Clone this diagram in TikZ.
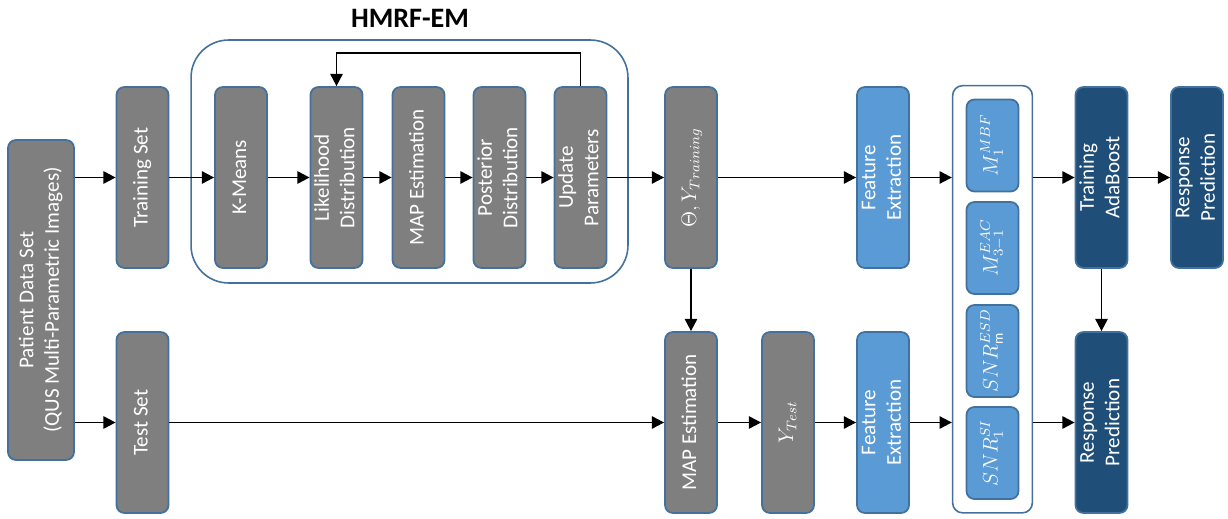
\documentclass[tikz,border=0pt]{standalone}
\usepackage{fontspec}
\setmainfont{Carlito}
\usepackage{amsmath}
\usetikzlibrary{positioning,arrows.meta,fit}
\definecolor{boxgray}{HTML}{7F7F7F}
\definecolor{boxlight}{HTML}{5B9BD5}
\definecolor{boxdark}{HTML}{1F4E79}
\definecolor{edgeblue}{HTML}{41719C}
\newcommand{\vlabel}[1]{\rotatebox{90}{\begin{tabular}{@{}c@{}}#1\end{tabular}}}

\begin{document}
\begin{tikzpicture}[
  x=0.02cm, y=0.02cm,
  >={Triangle[length=7pt,width=7pt]},
  grbox/.style={draw=edgeblue, line width=1pt, rounded corners=4.5pt, fill=boxgray, text=white,
    inner sep=0pt, minimum width=1.04cm, minimum height=3.62cm, font=\fontsize{12}{14.5}\selectfont},
  ltbox/.style={grbox, fill=boxlight},
  dkbox/.style={grbox, fill=boxdark},
  featbox/.style={ltbox, minimum height=1.84cm},
  frame/.style={draw=edgeblue, line width=0.9pt},
  flow/.style={->, line width=1.1pt}
]
  \useasboundingbox (0,0) rectangle (1228,518);

  % data sets
  \node[grbox, minimum width=1.32cm, minimum height=6.4cm] (patient) at (41,218)
    {\vlabel{Patient Data Set\\(QUS Multi-Parametric Images)}};
  \node[grbox] (train) at (142.5,340.5) {\vlabel{Training Set}};
  \node[grbox] (test) at (142.5,95.5) {\vlabel{Test Set}};

  % HMRF-EM
  \node[frame, rounded corners=0.75cm, minimum width=8.74cm, minimum height=4.86cm] (hmrf) at (409.5,356.5) {};
  \node[font=\fontsize{16}{18}\selectfont\bfseries] (hmrftitle) at (410,500) {HMRF-EM};
  \node[grbox] (kmeans) at (241,340.5) {\vlabel{K-Means}};
  \node[grbox] (lik) at (336.5,340.5) {\vlabel{Likelihood\\Distribution}};
  \node[grbox] (mapa) at (418.5,340.5) {\vlabel{MAP Estimation}};
  \node[grbox] (post) at (499.5,340.5) {\vlabel{Posterior\\Distribution}};
  \node[grbox] (upd) at (580.5,340.5) {\vlabel{Update\\Parameters}};

  \node[grbox] (theta) at (691,340.5) {\vlabel{$\Theta, Y_{Training}$}};
  \node[grbox] (mapb) at (691,95.5) {\vlabel{MAP Estimation}};
  \node[grbox] (ytest) at (788,95.5) {\vlabel{$Y_{Test}$}};

  % features
  \node[ltbox] (fe1) at (883,340.5) {\vlabel{Feature\\Extraction}};
  \node[ltbox] (fe2) at (883,95.5) {\vlabel{Feature\\Extraction}};
  \node[featbox] (fmbf) at (992.5,372.5) {\vlabel{$M_{1}^{MBF}$}};
  \node[featbox] (feac) at (992.5,270) {\vlabel{$M_{3-1}^{EAC}$}};
  \node[featbox] (fesd) at (992.5,167) {\vlabel{$SNR_{\mathrm{m}}^{ESD}$}};
  \node[featbox] (fsi) at (992.5,65) {\vlabel{$SNR_{1}^{SI}$}};
  \node[frame, rounded corners=0.2cm, inner sep=0.26cm, fit=(fmbf)(fsi)] (grp) {};

  % classifier
  \node[dkbox] (ada) at (1101.5,340.5) {\vlabel{Training\\AdaBoost}};
  \node[dkbox] (rp1) at (1197,340.5) {\vlabel{Response\\Prediction}};
  \node[dkbox] (rp2) at (1101.5,95.5) {\vlabel{Response\\Prediction}};

  % connectors
  \draw[flow] (patient.east |- train) -- (train);
  \draw[flow] (patient.east |- test) -- (test);
  \draw[flow] (train) -- (kmeans);
  \draw[flow] (kmeans) -- (lik);
  \draw[flow] (lik) -- (mapa);
  \draw[flow] (mapa) -- (post);
  \draw[flow] (post) -- (upd);
  \draw[flow] (upd.north) -- ++(0,33) -| (lik.north);
  \draw[flow] (upd) -- (theta);
  \draw[flow] (theta) -- (fe1);
  \draw[flow] (theta) -- (mapb);
  \draw[flow] (test) -- (mapb);
  \draw[flow] (mapb) -- (ytest);
  \draw[flow] (ytest) -- (fe2);
  \draw[flow] (fe1) -- (fe1 -| grp.west);
  \draw[flow] (fe2) -- (fe2 -| grp.west);
  \draw[flow] (grp.east |- ada) -- (ada);
  \draw[flow] (grp.east |- rp2) -- (rp2);
  \draw[flow] (ada) -- (rp1);
  \draw[flow] (ada) -- (rp2);
\end{tikzpicture}
\end{document}
